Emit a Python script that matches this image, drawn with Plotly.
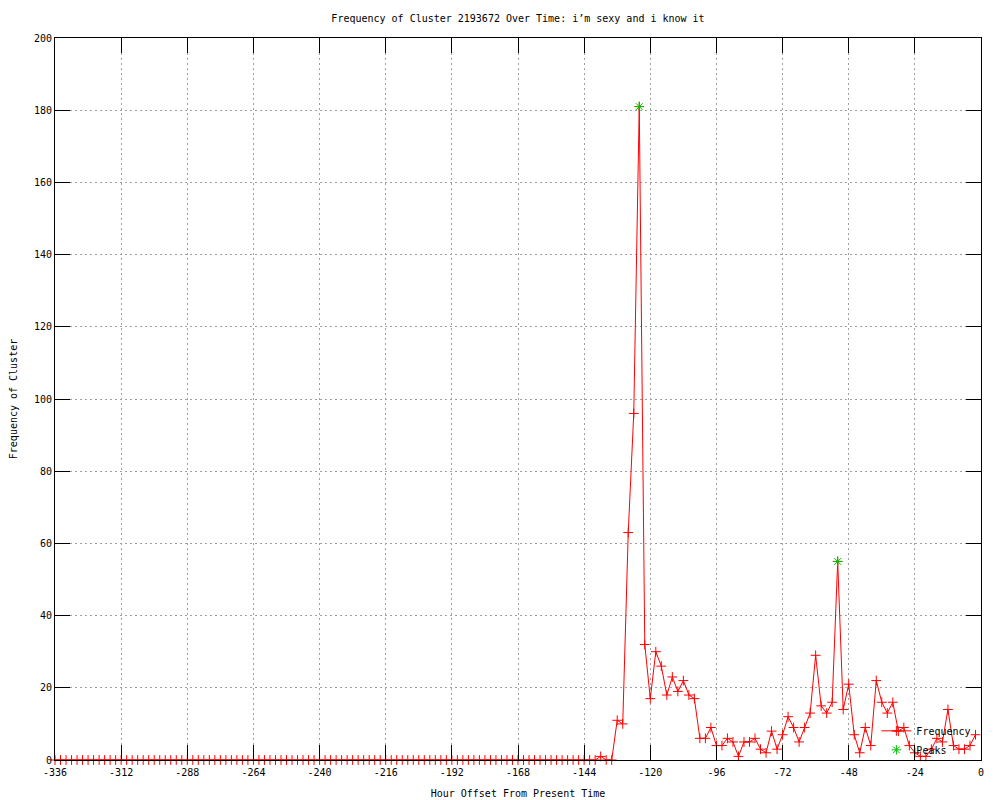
import plotly.graph_objects as go

# x positions: every 2 hours from -336 to -2
hours = list(range(-336, 0, 2))

# Frequency values (-336 ... -2)
freq_early = [
    0, 0, 0, 0, 0, 0, 0, 0, 0, 0, 0, 0, 0, 0, 0, 0, 0, 0, 0, 0,
    0, 0, 0, 0, 0, 0, 0, 0, 0, 0, 0, 0, 0, 0, 0, 0, 0, 0, 0, 0,
    0, 0, 0, 0, 0, 0, 0, 0, 0, 0, 0, 0, 0, 0, 0, 0, 0, 0, 0, 0,
    0, 0, 0, 0, 0, 0, 0, 0, 0, 0, 0, 0, 0, 0, 0, 0, 0, 0, 0, 0,
    0, 0, 0, 0, 0, 0, 0, 0, 0, 0, 0, 0, 0, 0, 0, 0, 0, 0, 0,
]
freq_late = [
    1, 0, 0, 11, 10, 63, 96, 181, 32, 17,
    30, 26, 18, 23, 19, 22, 18, 17, 6, 6,
    9, 4, 4, 6, 5, 1, 5, 5, 6, 3,
    2, 8, 3, 7, 12, 9, 5, 9, 13, 29,
    15, 13, 16, 55, 14, 21, 7, 2, 9, 4,
    22, 16, 13, 16, 8, 9, 4, 2, 1, 1,
    3, 6, 5, 14, 4, 3, 3, 4, 7,
]
freq = freq_early + freq_late

peak_hours = [-124, -52]
peak_values = [181, 55]

x_tick_vals = [-336, -312, -288, -264, -240, -216, -192, -168, -144, -120, -96, -72, -48, -24, 0]
x_tick_text = ["-336", "-312", "-288", "-264", "-240", "-216", "-192", "-168", "-144",
               "-120", "-96", "-72", "-48", "-24", "0"]
y_tick_vals = [0, 20, 40, 60, 80, 100, 120, 140, 160, 180, 200]

FONT = "DejaVu Sans Mono"
W, H = 992, 792  # page body adds an 8px margin

fig = go.Figure()
fig.add_trace(go.Scatter(
    x=hours, y=freq, mode="lines+markers", name="Frequency",
    line=dict(color="#ff0000", width=1),
    marker=dict(symbol="cross-thin-open", size=7, color="#ff0000",
                line=dict(color="#ff0000", width=1)),
    cliponaxis=False,
))
fig.add_trace(go.Scatter(
    x=peak_hours, y=peak_values, mode="markers", name="Peaks",
    marker=dict(symbol="asterisk-open", size=8, color="#00c000",
                line=dict(color="#00c000", width=1)),
    cliponaxis=False,
))

axis_common = dict(
    ticks="inside", ticklen=15, tickcolor="black", tickwidth=1,
    showline=True, linecolor="black", linewidth=1, mirror="ticks",
    showgrid=True, gridcolor="#a0a0a0", griddash="2px,3px", gridwidth=1,
    zeroline=False, tickfont=dict(family=FONT, size=10, color="black"),
    automargin=False,
)

fig.update_layout(
    width=W, height=H,
    margin=dict(l=47, r=19, t=30, b=40),
    paper_bgcolor="white", plot_bgcolor="white",
    font=dict(family=FONT, size=10, color="black"),
    title=dict(text="Frequency of Cluster 2193672 Over Time: i\u2019m sexy and i know it",
               x=0.5, xref="paper", xanchor="center",
               y=1 - 10 / H, yref="container", yanchor="middle",
               font=dict(family=FONT, size=10, color="black")),
    xaxis=dict(range=[-336, 0], tickvals=x_tick_vals, ticktext=x_tick_text,
               ticklabelstandoff=3,
               title=dict(text="Hour Offset From Present Time", standoff=12,
                          font=dict(family=FONT, size=10, color="black")),
               **axis_common),
    yaxis=dict(range=[0, 200], tickvals=y_tick_vals,
               title=dict(text="Frequency of Cluster", standoff=15,
                          font=dict(family=FONT, size=10, color="black")),
               **axis_common),
    legend=dict(x=0.995, xanchor="right", y=-0.006, yanchor="bottom",
                bgcolor="rgba(0,0,0,0)", borderwidth=0,
                font=dict(family=FONT, size=10, color="black"),
                tracegroupgap=0, itemwidth=30),
    showlegend=True,
)

fig.write_html("out.html")
